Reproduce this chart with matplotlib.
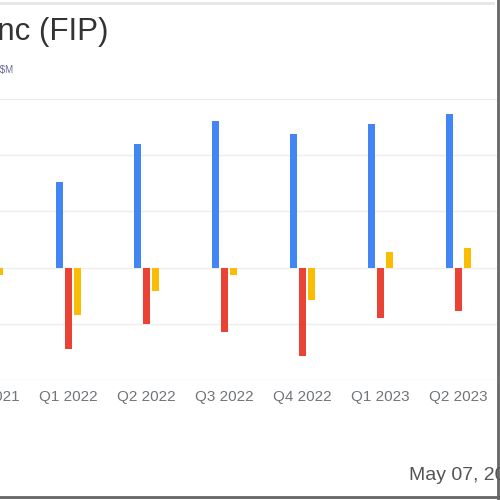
import numpy as np
import matplotlib.pyplot as plt

plt.rcParams['font.family'] = ['Liberation Sans', 'DejaVu Sans']

# quarterly values (in $M)
quarters = ['Q4 2021', 'Q1 2022', 'Q2 2022', 'Q3 2022', 'Q4 2022', 'Q1 2023', 'Q2 2023']
revenue = [55, 61, 88, 104, 95, 102, 109]
net_income = [-50, -58, -40, -46, -63, -36, -31]
other = [-5, -34, -17, -5, -23, 11, 14]

blue = '#4285f4'
red = '#ea4335'
yellow = '#fbbc04'

fig = plt.figure(figsize=(5, 5), dpi=100)
ax = fig.add_axes([-0.098, 0.24, 1.092, 0.562])

x = np.arange(len(quarters))
w = 0.09
step = 0.115
ax.bar(x - step, revenue, width=w, color=blue, zorder=3)
ax.bar(x, net_income, width=w, color=red, zorder=3)
ax.bar(x + step, other, width=w, color=yellow, zorder=3)

ax.set_xlim(-0.51, 6.49)
ax.set_ylim(-80, 120)
ax.set_yticks([-80, -40, 0, 40, 80, 120])
ax.yaxis.grid(True, color='#eeeeee', linewidth=1, zorder=0)
ax.set_xticks(x)
ax.set_xticklabels(quarters, fontsize=11, color='#70757a')
ax.tick_params(axis='x', length=0, pad=7)
ax.tick_params(axis='y', length=0, labelleft=False)
for s in ax.spines.values():
    s.set_visible(False)

# title, subtitle and date (the picture is a crop of a wider card)
fig.text(108 / 500, 1 - 32 / 500, 'FTAI Infrastructure Inc (FIP)', ha='right', va='center',
         fontsize=22.5, color='#333333')
fig.text(13 / 500, 1 - 70 / 500, 'Quarterly Earnings, in $M', ha='right', va='center',
         fontsize=7, color='#6a6a98')
fig.text(409 / 500, 1 - 475 / 500, 'May 07, 2024', ha='left', va='center',
         fontsize=14, color='#555555')

# card frame
fig.add_artist(plt.Line2D([0, 0.986], [1 - 3 / 500] * 2, color='#e6e6e6', linewidth=2))
fig.add_artist(plt.Line2D([0, 1], [1 - 497 / 500] * 2, color='#666666', linewidth=2))
fig.add_artist(plt.Line2D([1 - 2 / 500] * 2, [0, 1], color='#666666', linewidth=2))

fig.savefig('out.png', dpi=100)
